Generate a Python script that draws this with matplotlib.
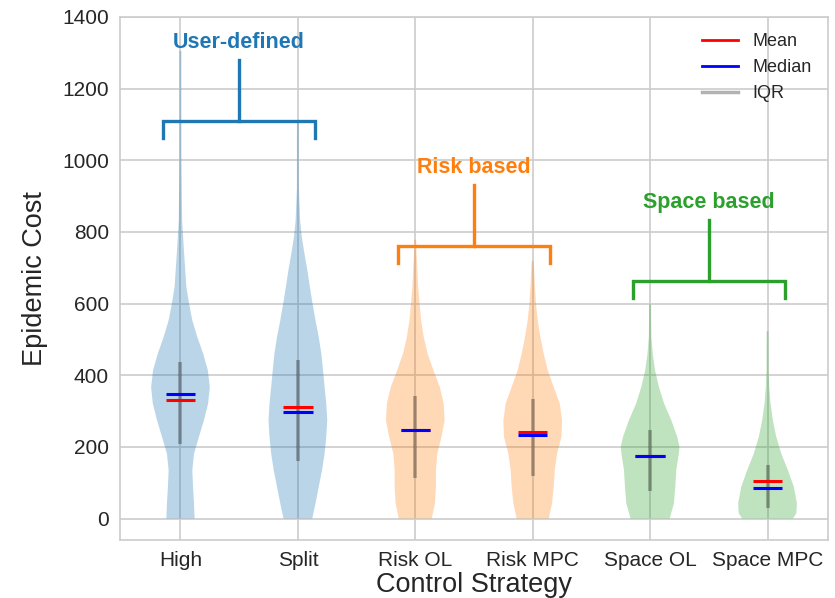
import numpy as np
import matplotlib
matplotlib.use("Agg")
import matplotlib.pyplot as plt
from matplotlib.lines import Line2D

plt.rcParams["font.family"] = ["Liberation Sans", "DejaVu Sans"]

# ---- data -------------------------------------------------------------
strategies = ["High", "Split", "Risk OL", "Risk MPC", "Space OL", "Space MPC"]
group_of = [0, 0, 1, 1, 2, 2]
group_names = ["User-defined", "Risk based", "Space based"]
group_colors = ["#1f77b4", "#ff7f0e", "#2ca02c"]

means = [330, 311, 247, 242, 175, 105]
medians = [347, 297, 246, 234, 175, 86]
q1 = [207, 161, 112, 118, 76, 30]
q3 = [437, 443, 341, 335, 248, 150]

# density profiles (cost level, relative density) for each strategy
high_y = [0, 42, 88, 135, 181, 228, 274, 321, 367, 414, 460, 507, 553, 600, 646, 740, 832, 1019, 1200, 1305]
high_d = [14.3, 13.7, 12.7, 12.0, 13.7, 18.7, 23.7, 28.0, 29.7, 27.7, 23.0, 17.0, 12.0, 8.7, 6.0, 3.7, 1.7, 1.0, 0.8, 0.3]

split_y = [0, 42, 88, 135, 181, 228, 274, 321, 367, 414, 460, 507, 553, 600, 646, 693, 740, 786, 832, 925, 1110]
split_d = [14.7, 18.0, 21.3, 24.7, 27.3, 29.0, 30.0, 29.0, 27.3, 25.7, 24.0, 21.3, 18.0, 15.0, 12.3, 9.7, 6.7, 4.0, 2.3, 1.0, 0.3]

riskol_y = [0, 42, 88, 135, 181, 228, 274, 321, 367, 414, 460, 507, 553, 646, 740, 778]
riskol_d = [17.0, 20.3, 21.3, 21.3, 22.7, 27.0, 30.3, 29.3, 25.3, 18.7, 12.7, 8.7, 6.0, 3.0, 1.3, 0.3]

riskmpc_y = [0, 42, 88, 135, 181, 228, 274, 321, 367, 414, 460, 507, 553, 600, 646, 719]
riskmpc_d = [16.0, 19.3, 21.0, 22.0, 24.3, 28.7, 29.3, 27.0, 21.0, 15.0, 11.0, 7.7, 5.0, 3.3, 2.3, 0.3]

spaceol_y = [0, 42, 88, 135, 181, 200, 228, 274, 321, 367, 414, 460, 507, 598]
spaceol_d = [20.0, 24.3, 25.7, 26.7, 29.3, 30.0, 27.7, 21.7, 14.3, 9.0, 5.0, 2.7, 1.3, 0.3]

spacempc_y = [0, 14, 42, 88, 135, 181, 228, 274, 321, 367, 414, 523]
spacempc_d = [25.3, 28.7, 29.3, 26.3, 20.3, 13.7, 8.7, 5.3, 3.0, 1.7, 1.0, 0.3]

profiles = [(high_y, high_d), (split_y, split_d), (riskol_y, riskol_d),
            (riskmpc_y, riskmpc_d), (spaceol_y, spaceol_d), (spacempc_y, spacempc_d)]

# group brackets: (first index, last index, bar level)
brackets = [(0, 1, 1110), (2, 3, 760), (4, 5, 663)]

# ---- figure -----------------------------------------------------------
fig = plt.figure(figsize=(8.35, 5.98), dpi=100)
ax = fig.add_axes([120 / 835, 1 - 540 / 598, 708 / 835, 523 / 598])

grid_c = "#cccccc"
text_c = "#262626"
ax.set_facecolor("white")
for s in ax.spines.values():
    s.set_color(grid_c)
    s.set_linewidth(1.2)
ax.grid(True, color=grid_c, linewidth=1.2)
ax.set_axisbelow(True)

positions = np.arange(len(strategies))
half = 0.25  # half of the violin width

for i, (ys, ds) in enumerate(profiles):
    ys = np.asarray(ys, float)
    ds = np.asarray(ds, float)
    w = np.maximum(ds / ds.max() * half, 0.008)
    col = group_colors[group_of[i]]
    ax.fill_betweenx(ys, positions[i] - w, positions[i] + w,
                     facecolor=col, edgecolor="none", alpha=0.3, linewidth=0, zorder=2)

# IQR bars, then mean and median ticks
for i in range(len(strategies)):
    p = positions[i]
    ax.plot([p, p], [q1[i], q3[i]], color="black", alpha=0.3, lw=2.6,
            solid_capstyle="butt", zorder=3)
    ax.plot([p - 0.125, p + 0.125], [means[i], means[i]], color="red", lw=2.2, zorder=4,
            solid_capstyle="butt")
    ax.plot([p - 0.125, p + 0.125], [medians[i], medians[i]], color="blue", lw=2.2, zorder=5,
            solid_capstyle="butt")

# group brackets with labels
for g, (a, b, lvl) in enumerate(brackets):
    col = group_colors[g]
    xl, xr = positions[a] - 0.15, positions[b] + 0.15
    xm = (positions[a] + positions[b]) / 2
    ax.plot([xl, xl, xr, xr], [lvl - 48, lvl, lvl, lvl - 48], color=col, lw=2.4,
            solid_joinstyle="miter", zorder=6)
    ax.plot([xm, xm], [lvl, lvl + 170], color=col, lw=2.4, zorder=6)
    ax.text(xm, lvl + 220, group_names[g], color=col, fontsize=15.5, fontweight="bold",
            ha="center", va="center", zorder=7)

ax.set_xlim(-0.515, 5.515)
ax.set_ylim(-60, 1400)
ax.set_xticks(positions)
ax.set_xticklabels(strategies)
ax.set_yticks(np.arange(0, 1401, 200))
ax.tick_params(axis="both", length=0, labelsize=15, labelcolor=text_c, pad=8)

ax.set_xlabel("Control Strategy", fontsize=19.5, color=text_c, labelpad=1)
ax.set_ylabel("Epidemic Cost", fontsize=19.5, color=text_c, labelpad=10)

handles = [Line2D([], [], color="red", lw=2),
           Line2D([], [], color="blue", lw=2),
           Line2D([], [], color="black", alpha=0.3, lw=2.5)]
leg = ax.legend(handles, ["Mean", "Median", "IQR"], loc="upper right", frameon=False,
                fontsize=13)
for t in leg.get_texts():
    t.set_color(text_c)

fig.savefig("out.png", dpi=100)
